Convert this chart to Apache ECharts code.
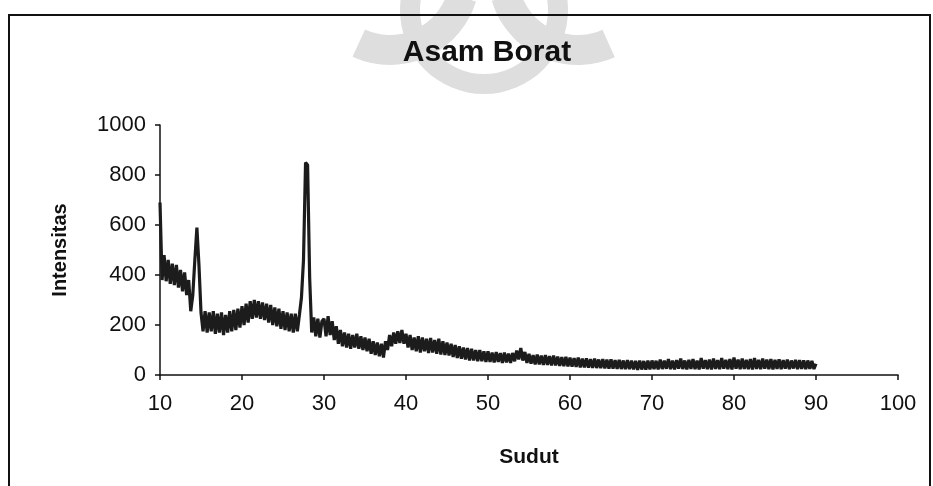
<!DOCTYPE html>
<html>
<head>
<meta charset="utf-8">
<script src="https://cdn.jsdelivr.net/npm/echarts@6/dist/echarts.min.js"></script>
<style>
html,body{margin:0;padding:0;background:#fff;}
#chart{width:933px;height:486px;}
</style>
</head>
<body>
<div id="chart"></div>
<script>
// sudut awal dan langkah data (derajat)
const sudutAwal = 10
const langkah = 0.25

// intensitas, per rentang sudut
const int10to20 = [690,380,480,375,460,365,445,360,440,350,420,335,410,320,380,255,320,460,590,440,
  250,175,255,170,250,175,255,165,245,170,250,160,240,170,255,175,260,180,265,190]
const int20to30 = [275,200,285,210,295,225,300,230,295,225,290,220,285,210,280,200,270,195,265,185,
  255,180,250,175,245,170,245,175,240,310,460,850,840,390,170,230,155,225,150,215]
const int30to50 = [225,155,235,160,215,140,195,125,180,115,170,110,165,105,160,110,165,105,155,100,
  150,95,145,85,135,80,130,75,125,70,135,100,160,115,170,125,175,128,180,125,
  165,110,160,100,150,95,155,90,150,95,145,88,148,90,140,85,145,82,135,80,
  130,78,125,72,120,68,115,65,110,62,108,58,105,58,100,55,100,55,95,52]
const int50to70 = [95,52,90,50,92,52,88,48,90,50,86,48,88,55,98,62,108,58,92,48,
  85,45,80,42,82,42,78,40,80,40,76,38,78,38,74,36,72,35,73,34,
  70,33,68,32,70,30,66,30,67,29,64,28,66,28,62,27,64,26,62,25,
  63,25,60,24,61,24,58,23,60,23,58,22,57,20,58,22,56,21,58,22]
const int70to90 = [58,24,57,22,62,24,57,25,64,23,58,22,60,25,66,24,58,22,61,24,
  64,23,58,22,68,25,60,23,62,22,66,24,60,23,68,25,61,23,64,22,
  70,25,62,23,66,24,61,23,64,22,68,24,61,23,66,25,62,23,64,22,
  61,24,63,23,60,25,62,23,58,26,61,23,60,24,59,23,58,25,56,24,45]

const intensitas = [].concat(int10to20, int20to30, int30to50, int50to70, int70to90)
const dataXrd = intensitas.map((v, i) => [sudutAwal + i * langkah, v])

const xTicks = [10, 100, 10]   // min, max, interval
const yTicks = [0, 1000, 200]

const fontUtama = "'Liberation Sans', Arial, sans-serif"

const chart = echarts.init(document.getElementById('chart'))

const option = {
  backgroundColor: '#fff',
  animation: false,
  title: {
    text: 'Asam Borat',
    left: 482,
    top: 33,
    textAlign: 'center',
    textStyle: { fontFamily: fontUtama, fontSize: 30, fontWeight: 'bold', color: '#111' }
  },
  graphic: [
    // bayangan logo (watermark) di belakang judul
    { type: 'ring', z: -10, shape: { cx: 484, cy: 10, r: 84, r0: 64 }, style: { fill: '#dedede' } },
    { type: 'sector', z: -10, shape: { cx: 390, cy: -25, r: 90, r0: 60, startAngle: 0.3, endAngle: 2.0 }, style: { fill: '#dedede' } },
    { type: 'sector', z: -10, shape: { cx: 578, cy: -25, r: 90, r0: 60, startAngle: 1.15, endAngle: 2.85 }, style: { fill: '#dedede' } },
    // bingkai
    { type: 'rect', z: 10, shape: { x: 9, y: 15, width: 921, height: 500 }, style: { fill: 'none', stroke: '#111', lineWidth: 2 } }
  ],
  grid: { left: 160, right: 35, top: 125, bottom: 111 },
  xAxis: {
    type: 'value',
    min: xTicks[0], max: xTicks[1], interval: xTicks[2],
    name: 'Sudut',
    nameLocation: 'middle',
    nameGap: 72,
    nameTextStyle: { fontFamily: fontUtama, fontSize: 21, fontWeight: 'bold', color: '#111' },
    axisLine: { lineStyle: { color: '#111', width: 1.5 } },
    axisTick: { length: 5, lineStyle: { color: '#111', width: 1.5 } },
    axisLabel: { margin: 18, fontFamily: fontUtama, fontSize: 22, color: '#111', formatter: v => String(v) },
    splitLine: { show: false }
  },
  yAxis: {
    type: 'value',
    min: yTicks[0], max: yTicks[1], interval: yTicks[2],
    name: 'Intensitas',
    nameLocation: 'middle',
    nameGap: 90,
    nameTextStyle: { fontFamily: fontUtama, fontSize: 20, fontWeight: 'bold', color: '#111' },
    axisLine: { show: true, lineStyle: { color: '#111', width: 1.5 } },
    axisTick: { show: true, length: 5, lineStyle: { color: '#111', width: 1.5 } },
    axisLabel: { margin: 14, fontFamily: fontUtama, fontSize: 22, color: '#111', formatter: v => String(v) },
    splitLine: { show: false }
  },
  series: [{
    name: 'Asam Borat',
    type: 'line',
    data: dataXrd,
    symbol: 'none',
    lineStyle: { color: '#1c1c1c', width: 3.2 }
  }]
}

chart.setOption(option)
</script>
</body>
</html>
